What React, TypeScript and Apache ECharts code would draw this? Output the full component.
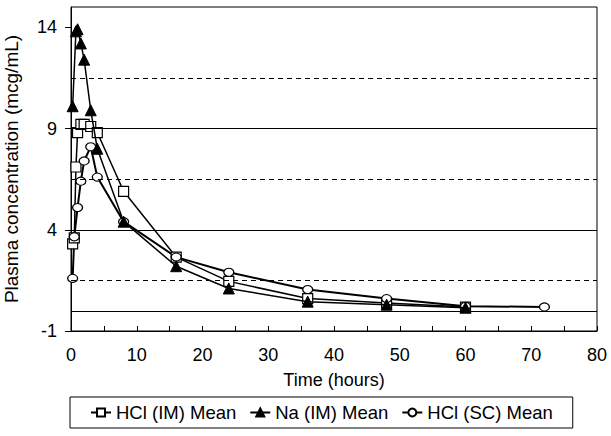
import React, { useEffect, useRef } from "react";
import * as echarts from "echarts";

const hclImTime = [0.25, 0.5, 0.75, 1, 1.5, 2, 3, 4, 8, 16, 24, 36, 48, 60];
const hclImValues = [3.3, 3.6, 7.1, 8.8, 9.2, 9.2, 9.1, 8.8, 5.9, 2.65, 1.45, 0.6, 0.38, 0.18];

const naImTime = [0.25, 0.75, 1, 1.5, 2, 3, 4, 8, 16, 24, 36, 48, 60];
const naImValues = [10.1, 13.8, 13.9, 13.2, 12.4, 9.9, 8.0, 4.4, 2.2, 1.1, 0.45, 0.3, 0.15];

const hclScTime = [0.25, 0.5, 1, 1.5, 2, 3, 4, 8, 16, 24, 36, 48, 60, 72];
const hclScValues = [1.6, 3.65, 5.1, 6.4, 7.4, 8.1, 6.6, 4.4, 2.65, 1.9, 1.05, 0.6, 0.22, 0.19];

const yTickLabels = [-1, 4, 9, 14];
const xTickLabels = [0, 10, 20, 30, 40, 50, 60, 70, 80];
const solidLines = [0, 4, 9];
const dashedLines = [1.5, 6.5, 11.5];

const seriesNames = ["HCl (IM) Mean", "Na (IM) Mean", "HCl (SC) Mean"];

const FONT = "Liberation Sans, Arial, sans-serif";

export default function App() {
  const ref = useRef<HTMLDivElement>(null);
  useEffect(() => {
    document.body.style.margin = "0";
    if (!ref.current) return;
    const chart = echarts.init(ref.current, null, { renderer: "svg" });
    const pair = (t: number[], v: number[]) => t.map((x, i) => [x, v[i]]);
    const lineStyle = { color: "#000", width: 1.5 };
    chart.setOption({
      animation: false,
      textStyle: { fontFamily: FONT, color: "#000" },
      grid: {
        left: 71,
        right: 14,
        top: 7,
        bottom: 105,
        outerBoundsMode: "none",
        containLabel: false,
        show: true,
        borderColor: "#000",
        borderWidth: 1,
        backgroundColor: "transparent",
      },
      legend: {
        data: seriesNames,
        left: 70,
        bottom: 8,
        borderColor: "#000",
        borderWidth: 1,
        padding: [6, 20],
        itemGap: 13,
        itemWidth: 20,
        itemHeight: 10,
        textStyle: { fontFamily: FONT, fontSize: 18.5, color: "#000" },
      },
      xAxis: {
        type: "value",
        min: 0,
        max: 80,
        interval: 5,
        name: "Time (hours)",
        nameLocation: "middle",
        nameGap: 40,
        nameTextStyle: { fontFamily: FONT, fontSize: 18, color: "#000" },
        axisLine: { show: true, onZero: false, lineStyle: { color: "#000", width: 1 } },
        axisTick: { show: true, inside: true, length: 5, lineStyle: { color: "#000" } },
        axisLabel: {
          customValues: xTickLabels,
          margin: 15,
          fontSize: 18,
          color: "#000",
          fontFamily: FONT,
        },
        splitLine: { show: false },
      },
      yAxis: {
        type: "value",
        min: -1,
        max: 15,
        interval: 5,
        name: "Plasma concentration (mcg/mL)",
        nameLocation: "middle",
        nameGap: 50,
        nameTextStyle: { fontFamily: FONT, fontSize: 19, color: "#000" },
        axisLine: { show: true, onZero: false, lineStyle: { color: "#000", width: 1 } },
        axisTick: { show: true, customValues: yTickLabels, length: 6, lineStyle: { color: "#000" } },
        axisLabel: {
          customValues: yTickLabels,
          margin: 14,
          fontSize: 18,
          color: "#000",
          fontFamily: FONT,
        },
        splitLine: { show: false },
      },
      series: [
        {
          name: "grid-lines",
          type: "line",
          data: [],
          z: 1,
          silent: true,
          markLine: {
            silent: true,
            symbol: ["none", "none"],
            label: { show: false },
            data: [
              ...solidLines.map((v) => ({ yAxis: v, lineStyle: { type: "solid", color: "#000", width: 1.2 } })),
              ...dashedLines.map((v) => ({ yAxis: v, lineStyle: { type: [5, 4], color: "#000", width: 1.2 } })),
            ],
          },
        },
        {
          name: seriesNames[0],
          type: "line",
          data: pair(hclImTime, hclImValues),
          symbol: "rect",
          symbolSize: 10,
          showAllSymbol: true,
          lineStyle,
          itemStyle: { color: "#fff", borderColor: "#000", borderWidth: 1.2 },
          z: 3,
        },
        {
          name: seriesNames[1],
          type: "line",
          data: pair(naImTime, naImValues),
          symbol: "triangle",
          symbolSize: 11,
          showAllSymbol: true,
          lineStyle,
          itemStyle: { color: "#000", borderColor: "#000", borderWidth: 1 },
          z: 4,
        },
        {
          name: seriesNames[2],
          type: "line",
          data: pair(hclScTime, hclScValues),
          symbol: "circle",
          symbolSize: [10, 8],
          showAllSymbol: true,
          lineStyle: { color: "#000", width: 2 },
          itemStyle: { color: "#fff", borderColor: "#000", borderWidth: 1.2 },
          z: 3,
        },
      ],
    });
    return () => chart.dispose();
  }, []);
  return <div ref={ref} style={{ width: 611, height: 436 }} />;
}
